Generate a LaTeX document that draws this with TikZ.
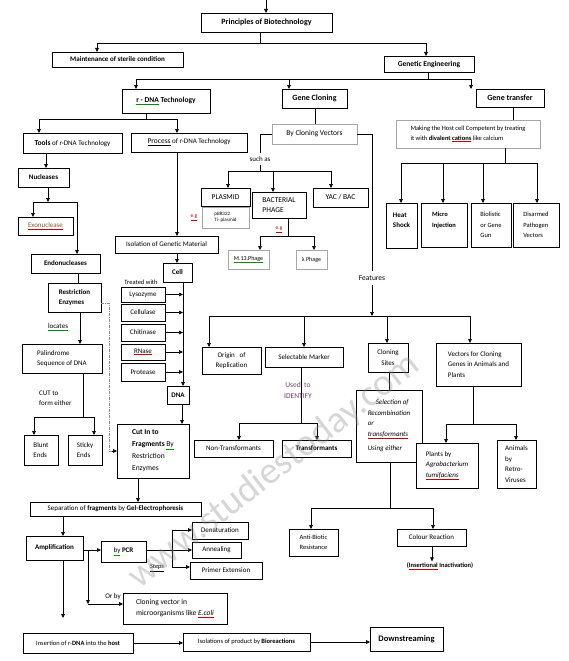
\documentclass[tikz,border=0pt]{standalone}
\usepackage{fontspec}
\setmainfont{Carlito}
\usetikzlibrary{arrows.meta,shadows}
\definecolor{idc}{RGB}{112,60,120}
\colorlet{spr}{red!75!black}
\colorlet{spg}{green!55!black}
\newcommand\uln[2][black]{\textcolor{#1}{\underline{\textcolor{black}{#2}}}}
\newcommand\bbx[7][]{\node[box,minimum width={#5pt-#3pt},minimum height={#6pt-#4pt},#1] (#2) at ({(#3+#5)/2},{(#4+#6)/2}) {#7};}
\begin{document}
\begin{tikzpicture}[x=1pt,y=-1pt,
 box/.style={draw,line width=0.6pt,fill=white,inner sep=1pt,outer sep=0pt,align=center,font=\fontsize{7}{10.5}\selectfont},
 sbox/.style={box,drop shadow={shadow xshift=1.3pt,shadow yshift=-1.3pt,fill=black!60,opacity=1}},
 gbox/.style={box,draw=black!35},
 hd/.style={font=\fontsize{8}{10}\selectfont\bfseries},
 bf/.style={font=\fontsize{7}{10.5}\selectfont\bfseries},
 ln/.style={line width=0.6pt},
 arr/.style={ln,-{Triangle[length=4pt,width=3.6pt]}},
 lbl/.style={inner sep=1pt,font=\fontsize{7}{10.5}\selectfont,align=left},
]
\fill[white] (0,0) rectangle (568,661);
\useasboundingbox (0,0) rectangle (568,661);

% ---------- top ----------
\bbx[hd]{princ}{201}{13}{332}{32}{Principles of Biotechnology}
\coordinate (top) at (266,0);
\draw[arr] (top) -- (princ.north -| top);
\bbx[bf]{maint}{52}{52}{183}{67}{Maintenance of sterile condition}
\bbx[sbox,font=\fontsize{7.5}{9}\selectfont\bfseries]{geneng}{384}{56}{474}{72}{Genetic Engineering}
\coordinate (j1) at (260,43); \coordinate (j1a) at (97,43); \coordinate (j1b) at (426,43);
\draw[ln] (princ.south -| j1) -- (j1);
\draw[ln] (j1a) -- (j1b);
\draw[arr] (j1a) -- (maint.north -| j1a);
\draw[arr] (j1b) -- (geneng.north -| j1b);

\bbx[sbox,font=\fontsize{7.5}{9}\selectfont\bfseries]{rdna}{122}{89}{210}{113}{\uln[spg]{r - DNA} Technology}
\bbx[sbox,font=\fontsize{8}{10}\selectfont\bfseries]{clon}{282}{89}{347}{108}{Gene Cloning}
\bbx[sbox,font=\fontsize{8}{10}\selectfont\bfseries]{gtrans}{476}{89}{544}{107}{Gene transfer}
\coordinate (j2) at (428,79); \coordinate (j2a) at (136,79); \coordinate (j2b) at (289,79); \coordinate (j2c) at (471,79);
\draw[ln] (geneng.south -| j2) -- (j2);
\draw[ln] (j2a) -- (j2c);
\draw[arr] (j2a) -- (rdna.north -| j2a);
\draw[arr] (j2b) -- (clon.north -| j2b);
\draw[arr] (j2c) -- (gtrans.north -| j2c);

% ---------- r-DNA technology ----------
\bbx{tools}{23}{133}{122}{153}{{\fontsize{7.5}{9}\selectfont\bfseries Tools} of r-DNA Technology}
\bbx{proc}{131}{133}{247}{152}{\underline{\fontsize{7.5}{9}\selectfont Process} of r-DNA Technology}
\coordinate (j3) at (146,119); \coordinate (j3a) at (39,119); \coordinate (j3b) at (177,119);
\draw[ln] (rdna.south -| j3) -- (j3);
\draw[ln] (j3a) -- (j3b);
\draw[arr] (j3a) -- (tools.north -| j3a);
\draw[arr] (j3b) -- (proc.north -| j3b);

\bbx[bf]{nucl}{18}{168}{69}{187}{Nucleases}
\draw[arr] (tools.south -| 46,0) -- (nucl.north -| 46,0);
\bbx{exo}{18}{217}{73}{235}{\uln[spr]{\color{brown!70!black}Exonuclease}}
\bbx[bf]{endo}{31}{254}{100}{273}{Endonucleases}
\coordinate (j4) at (48,202); \coordinate (j4a) at (33,202); \coordinate (j4b) at (77,202);
\draw[arr] (nucl.south -| j4) -- (j4);
\draw[ln] (j4a) -- (j4b);
\draw[arr] (j4a) -- (exo.north -| j4a);
\draw[arr] (j4b) -- (endo.north -| j4b);

\bbx[sbox,font=\fontsize{7}{10.5}\selectfont\bfseries,align=left]{restr}{48}{283}{101}{312}{Restriction\\Enzymes}
\draw[ln] (endo.south -| 78,0) -- (restr.north -| 78,0);
\bbx[align=left]{palin}{22}{344}{102}{373}{Palindrome\\Sequence of DNA}
\draw[arr] (restr.south -| 80,0) -- (palin.north -| 80,0);
\node[lbl] (loc) at (58,327) {\uln[spg]{locates}};
\bbx[align=left]{blunt}{24}{435}{58}{465}{Blunt\\Ends}
\bbx[align=left]{sticky}{68}{435}{102}{465}{Sticky\\Ends}
\coordinate (j5) at (83,417); \coordinate (j5a) at (34,417); \coordinate (j5b) at (94,417);
\draw[ln] (palin.south -| j5) -- (j5);
\draw[ln] (j5a) -- (j5b);
\draw[arr] (j5a) -- (blunt.north -| j5a);
\draw[arr] (j5b) -- (sticky.north -| j5b);
\node[lbl,anchor=west] (cut) at (38,398) {CUT to\\form either};

% process column
\bbx{iso}{115}{236}{218}{253}{Isolation of Genetic Material}
\draw[arr] (proc.south -| 177,0) -- (iso.north -| 177,0);
\bbx[bf]{cell}{163}{263}{192}{282}{Cell}
\draw[arr] (iso.south -| 177,0) -- (cell.north -| 177,0);
\node[lbl,font=\fontsize{6.5}{8}\selectfont] (tw) at (141,282) {Treated with};
\bbx[sbox]{lys}{121}{287}{165}{302}{Lysozyme}
\bbx[sbox]{celu}{121}{304}{165}{321}{Cellulase}
\bbx[sbox]{chit}{121}{324}{165}{341}{Chitinase}
\bbx[sbox]{rnase}{121}{344}{165}{360}{\uln[spr]{RNase}}
\bbx[sbox]{prot}{121}{363}{165}{381}{Protease}
\bbx[bf]{dna}{167}{386}{189}{404}{DNA}
\draw[arr] (cell.south -| 183,0) -- (dna.north -| 183,0);
\foreach \n in {lys,celu,chit,rnase,prot}{\draw[arr] (\n.east) -- (\n.east -| 183,0);}
\bbx[align=left,font=\fontsize{7.5}{12}\selectfont]{cutin}{117}{424}{189}{478}{\textbf{Cut In to}\\\textbf{Fragments} \uln[spg]{By}\\Restriction\\Enzymes}
\draw[arr] (dna.south -| 182,0) -- (cutin.north -| 182,0);
\coordinate (d1) at (109,303); \coordinate (d2) at (109,451); \coordinate (d3) at (112,451);
\draw[ln,black!45,dash pattern=on 3pt off 1pt on 1pt off 1pt] (restr.east |- d1) -- (d1) -- (d2) -- (d3);
\draw[arr] (d3) -- (cutin.west |- d3);

% lower process
\bbx{sep}{30}{502}{201}{516}{Separation of \textbf{fragments} by \textbf{Gel-Electrophoresis}}
\draw[arr] (cutin.south -| 138,0) -- (sep.north -| 138,0);
\bbx[bf]{amp}{26}{536}{83}{560}{Amplification}
\draw[arr] (sep.south -| 63,0) -- (amp.north -| 63,0);
\bbx{pcr}{101}{541}{146}{562}{\uln[spg]{by} \textbf{PCR}}
\coordinate (aj) at (88,550); \coordinate (aj2) at (88,604);
\draw[arr] (amp.east |- aj) -- (pcr.west |- aj);
\draw[arr] (aj) -- (aj2);
\bbx[align=left,font=\fontsize{7.5}{11}\selectfont]{clvec}{123}{593}{227}{624}{Cloning vector in\\microorganisms like \uln[spr]{\textit{E.coli}}}
\draw[arr] (aj2) -- (clvec.west |- aj2);
\node[lbl] (orby) at (113,597) {Or by};
\bbx{denat}{192}{522}{248}{539}{Denaturation}
\bbx{anneal}{192}{542}{241}{558}{Annealing}
\bbx{prim}{190}{562}{262}{579}{Primer Extension}
\coordinate (pj) at (172,550); \coordinate (pj1) at (172,530); \coordinate (pj2) at (172,567);
\draw[arr] (pcr.east |- pj) -- (anneal.west |- pj);
\draw[ln] (pj1) -- (pj2);
\draw[arr] (pj1) -- (denat.west |- pj1);
\draw[arr] (pj2) -- (prim.west |- pj2);
\node[lbl,font=\fontsize{6.5}{8}\selectfont\itshape] (steps) at (157,568) {\underline{Steps}};

\coordinate (ie) at (63,618);
\draw[arr] (amp.south -| ie) -- (ie);
\bbx[font=\fontsize{6.5}{9}\selectfont]{insert}{23}{633}{133}{653}{Insertion of r-\textbf{DNA} into the \textbf{host}}
\bbx[font=\fontsize{6.5}{9}\selectfont]{isol}{183}{633}{310}{651}{Isolations of product by \textbf{Bioreactions}}
\draw[arr] (insert.east |- 0,643) -- (isol.west |- 0,643);
\bbx[font=\fontsize{8.5}{10}\selectfont\bfseries]{down}{370}{627}{443}{651}{Downstreaming}
\draw[arr] (isol.east |- 0,642) -- (down.west |- 0,642);

% ---------- gene cloning ----------
\bbx[gbox,font=\fontsize{7.5}{9}\selectfont]{bcv}{272}{124}{357}{144}{By Cloning Vectors}
\draw[ln] (clon.south -| 315,0) -- (bcv.north -| 315,0);
\coordinate (s1) at (260,134); \coordinate (s2) at (260,153); \coordinate (s3) at (260,165); \coordinate (s4) at (260,171);
\coordinate (s4a) at (228,171); \coordinate (s4b) at (273,171); \coordinate (s4c) at (331,171);
\draw[ln] (bcv.west) -- (s1) -- (s2);
\node[lbl] (such) at (260,159) {such as};
\draw[ln] (s3) -- (s4);
\draw[ln] (s4a) -- (s4c);
\bbx[sbox,font=\fontsize{7.5}{9}\selectfont]{plasmid}{201}{188}{250}{206}{PLASMID}
\bbx[align=left,font=\fontsize{7.5}{10.5}\selectfont]{phage}{252}{192}{306}{218}{BACTERIAL\\PHAGE}
\bbx[font=\fontsize{7.5}{9}\selectfont]{yac}{313}{188}{368}{207}{YAC / BAC}
\draw[arr] (s4a) -- (plasmid.north -| s4a);
\draw[arr] (s4b) -- (phage.north -| s4b);
\draw[arr] (s4c) -- (yac.north -| s4c);
\bbx[gbox,align=left,font=\fontsize{5}{6.5}\selectfont]{pbr}{202}{207}{249}{228}{pBR322\\Ti- plasmid}
\node[lbl,font=\fontsize{5.5}{7}\selectfont] (eg1) at (194,218) {\uln[spr]{\color{spr}e.g}};
\coordinate (p1) at (288,236); \coordinate (p1a) at (260,236); \coordinate (p1b) at (314,236);
\draw[ln] (phage.south -| p1) -- (p1);
\draw[ln] (p1a) -- (p1b);
\node[lbl,font=\fontsize{5.5}{7}\selectfont] (eg2) at (279,230) {\uln[spr]{\color{spr}e.g}};
\bbx[gbox,font=\fontsize{6}{7}\selectfont]{m13}{228}{250}{269}{269}{\uln[spg]{M.13.Phage}}
\bbx[gbox,font=\fontsize{6}{7}\selectfont]{lam}{296}{250}{327}{269}{λ Phage}
\draw[arr] (p1a) -- (m13.north -| p1a);
\draw[arr] (p1b) -- (lam.north -| p1b);

% features
\coordinate (f1) at (372,134); \coordinate (f2) at (372,271); \coordinate (f3) at (372,285); \coordinate (f4) at (372,316);
\draw[ln] (bcv.east) -- (f1) -- (f2);
\node[lbl,font=\fontsize{7.5}{9}\selectfont] (feat) at (372,278) {Features};
\draw[arr] (f3) -- (f4);
\coordinate (f4a) at (209,316); \coordinate (f4b) at (304,316); \coordinate (f4c) at (387,316); \coordinate (f4d) at (470,316);
\draw[ln] (f4a) -- (f4d);
\bbx{orig}{202}{347}{261}{374}{Origin~~~of\\Replication}
\bbx{selm}{265}{347}{343}{367}{Selectable Marker}
\bbx[sbox]{clsite}{368}{343}{408}{372}{Cloning\\Sites}
\bbx[align=left]{vect}{436}{343}{521}{386}{Vectors for Cloning\\Genes in Animals and\\Plants}
\draw[arr] (f4a) -- (orig.north -| f4a);
\draw[arr] (f4b) -- (selm.north -| f4b);
\draw[arr] (f4c) -- (clsite.north -| f4c);
\draw[arr] (f4d) -- (vect.north -| f4d);

\coordinate (u1) at (301,423); \coordinate (u1a) at (239,423); \coordinate (u1b) at (317,423);
\draw[ln] (selm.south -| u1) -- (u1);
\draw[ln] (u1a) -- (u1b);
\node[lbl,align=center,font=\fontsize{7.5}{11}\selectfont] (used) at (298,390) {\textcolor{idc!80!gray}{Used~~to}\\\textcolor{idc}{IDENTIFY}};
\bbx{nont}{194}{440}{273}{457}{Non-Transformants}
\bbx[sbox,bf]{trans}{282}{440}{351}{457}{Transformants}
\draw[arr] (u1a) -- (nont.north -| u1a);
\draw[arr] (u1b) -- (trans.north -| u1b);

\bbx[align=left,font=\fontsize{7}{10.5}\selectfont\itshape]{sel}{356}{390}{422}{462}{\hspace*{8pt}Selection of\\Recombination\\or\\\uln[spr]{transformants}\\[4pt]Using either}
\draw[ln] (clsite.south -| 389,0) -- (sel.north -| 389,0);
\coordinate (c1) at (390,508); \coordinate (c1a) at (311,508); \coordinate (c1b) at (433,508);
\draw[ln] (sel.south -| c1) -- (c1);
\draw[ln] (c1a) -- (c1b);
\bbx[font=\fontsize{6.5}{10}\selectfont]{anti}{289}{529}{338}{556}{Anti-Biotic\\Resistance}
\bbx{colr}{397}{529}{466}{546}{Colour Reaction}
\draw[arr] (c1a) -- (anti.north -| c1a);
\draw[arr] (c1b) -- (colr.north -| c1b);
\node[lbl,font=\fontsize{6.5}{8}\selectfont\bfseries] (inact) at (440,566) {(\uln[spr]{Insertional} Inactivation)};
\draw[arr] (colr.south -| 432,0) -- (inact.north -| 432,0);

\coordinate (v1) at (473,424); \coordinate (v1a) at (446,424); \coordinate (v1b) at (516,424);
\draw[ln] (vect.south -| v1) -- (v1);
\draw[ln] (v1a) -- (v1b);
\bbx[align=left]{plants}{416}{443}{478}{488}{Plants by\\\textit{Agrobacterium}\\\uln[spr]{\textit{tumifaciens}}}
\bbx[align=left]{anim}{497}{440}{536}{488}{Animals\\by\\Retro-\\Viruses}
\draw[arr] (v1a) -- (plants.north -| v1a);
\draw[arr] (v1b) -- (anim.north -| v1b);

% ---------- gene transfer ----------
\bbx[gbox,align=left,font=\fontsize{6.5}{10}\selectfont]{making}{396}{120}{540}{148}{Making the Host cell Competent by treating\\it with \textbf{divalent} \textbf{\uln[spr]{cations}} like calcium}
\draw[ln] (gtrans.south -| 513,0) -- (making.north -| 513,0);
\coordinate (m1) at (505,163); \coordinate (m1a) at (401,163); \coordinate (m1b) at (443,163); \coordinate (m1c) at (483,163); \coordinate (m1d) at (537,163);
\draw[ln] (making.south -| m1) -- (m1);
\draw[ln] (m1a) -- (m1d);
\bbx[bf,align=left]{heat}{386}{203}{417}{248}{Heat\\Shock\\\mbox{}}
\bbx[font=\fontsize{6.5}{10.5}\selectfont\bfseries,align=left]{micro}{421}{203}{467}{247}{Micro\\Injection\\\mbox{}}
\bbx[font=\fontsize{6.5}{10.5}\selectfont,align=left]{biol}{471}{203}{511}{247}{Biolistic\\or Gene\\Gun}
\bbx[font=\fontsize{6.5}{10.5}\selectfont,align=left]{disarm}{513}{203}{559}{247}{Disarmed\\Pathogen\\Vectors}
\draw[arr] (m1a) -- (heat.north -| m1a);
\draw[arr] (m1b) -- (micro.north -| m1b);
\draw[arr] (m1c) -- (biol.north -| m1c);
\draw[arr] (m1d) -- (disarm.north -| m1d);

% ---------- watermark ----------
\node[rotate=38,text=black!45,opacity=0.35,font=\fontsize{38}{40}\selectfont] (wm) at (274,471) {www.studiestoday.com};
\end{tikzpicture}
\end{document}
